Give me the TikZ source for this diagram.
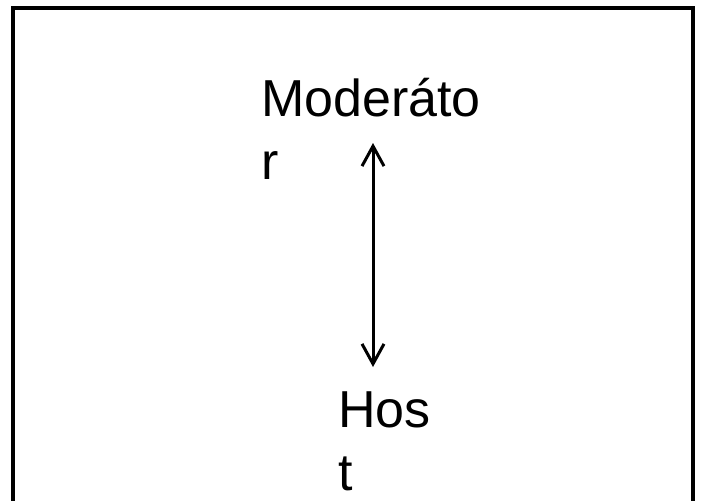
\documentclass[tikz,border=0pt]{standalone}
\usepackage{fontspec}
\setmainfont{Liberation Sans}
\usetikzlibrary{arrows.meta}
\tikzstyle{rotulo} = [inner sep=0pt, anchor=north west, align=left, font=\fontsize{52}{63}\selectfont]
\tikzstyle{flecha} = [line width=3pt, {Straight Barb[length=20pt,width=22pt]}-{Straight Barb[length=20pt,width=22pt]}]
\tikzstyle{marco} = [line width=4pt]

\begin{document}
\begin{tikzpicture}[x=1pt,y=-1pt]
	\useasboundingbox (0,0) rectangle (703,500);
	\clip (0,0) rectangle (703,500);
	\draw[marco] (13,8) rectangle (693,520);
	\node[rotulo](moderator) at (261,78) {Moderáto\\r};
	\node[rotulo](host) at (338,392) {Hos\\t};
	\coordinate (arrtop) at (373,143);
	\coordinate (arrbot) at (373,367);
	\draw[flecha] (arrtop) -- (arrbot);
\end{tikzpicture}
\end{document}
